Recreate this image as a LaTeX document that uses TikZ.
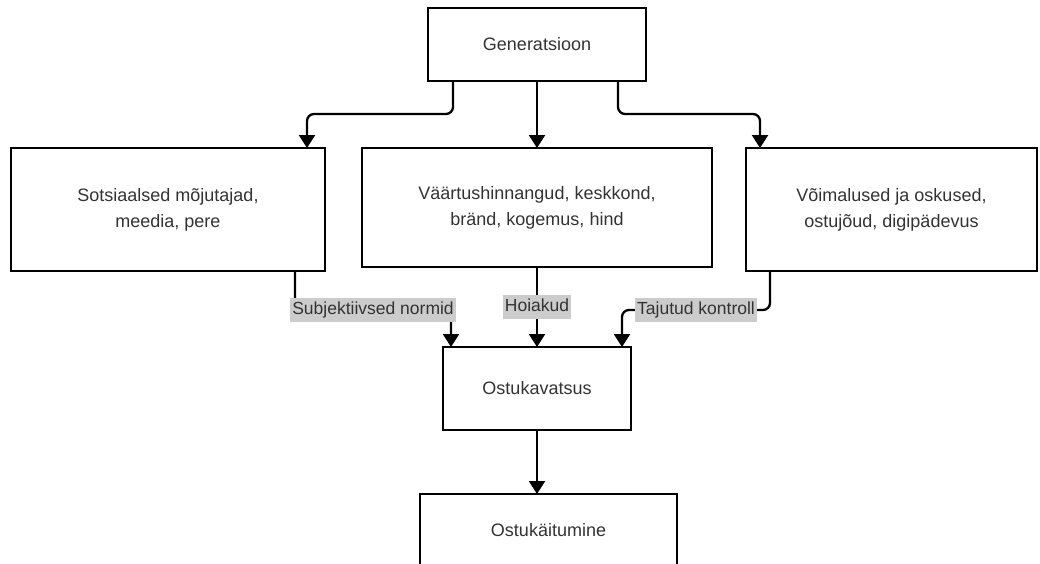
\documentclass[tikz,border=0pt]{standalone}
\usepackage{fontspec}
\setmainfont{Liberation Sans}
\usetikzlibrary{arrows.meta,calc}
\definecolor{txt}{HTML}{333333}
\definecolor{lblbg}{HTML}{CCCCCC}
\begin{document}
\begin{tikzpicture}[x=1pt,y=-1pt,
  box/.style={draw=black,line width=2.5pt,fill=white,rectangle,align=center,text=txt,
    inner sep=0pt,outer sep=0pt,font=\fontsize{18}{26}\selectfont},
  conn/.style={draw=black,line width=2.3pt,rounded corners=7pt,
    -{Triangle[width=16pt,length=13pt]}},
  lbl/.style={fill=lblbg,text=txt,inner sep=2pt,font=\fontsize{17.5}{20}\selectfont,
    text height=14pt,text depth=6pt,rounded corners=0pt}]
\useasboundingbox (0,0) rectangle (1040,563);
\node[box,minimum width=218pt,minimum height=73pt] (gen) at (537,44.5) {Generatsioon};
\node[box,minimum width=314pt,minimum height=123pt] (sots) at (168,209.5) {Sotsiaalsed mõjutajad,\\meedia, pere};
\node[box,minimum width=350pt,minimum height=119pt] (vaar) at (537,207.5) {Väärtushinnangud, keskkond,\\bränd, kogemus, hind};
\node[box,minimum width=291pt,minimum height=123pt] (voim) at (891.5,209.5) {Võimalused ja oskused,\\ostujõud, digipädevus};
\node[box,minimum width=188pt,minimum height=83pt] (kav) at (537,388.5) {Ostukavatsus};
\node[box,minimum width=257pt,minimum height=72pt] (kait) at (548.5,530) {Ostukäitumine};

\draw[conn] ($(gen.south)+(-84,0)$) -- ++(0,33) -| ($(sots.north)+(139,0)$);
\draw[conn] (gen.south) -- (vaar.north);
\draw[conn] ($(gen.south)+(81,0)$) -- ++(0,33) -| ($(voim.north)+(-131.5,0)$);

\draw[conn] ($(sots.south)+(127,0)$) -- ++(0,39) -| node[lbl,pos=0.25] {Subjektiivsed normid} ($(kav.north)+(-86,0)$);
\draw[conn] (vaar.south) -- node[lbl] {Hoiakud} (kav.north);
\draw[conn] ($(voim.south)+(-121.5,0)$) -- ++(0,39) -| node[lbl,pos=0.25] {Tajutud kontroll} ($(kav.north)+(85,0)$);

\draw[conn] (kav.south) -- (kait.north -| kav.south);
\end{tikzpicture}
\end{document}
